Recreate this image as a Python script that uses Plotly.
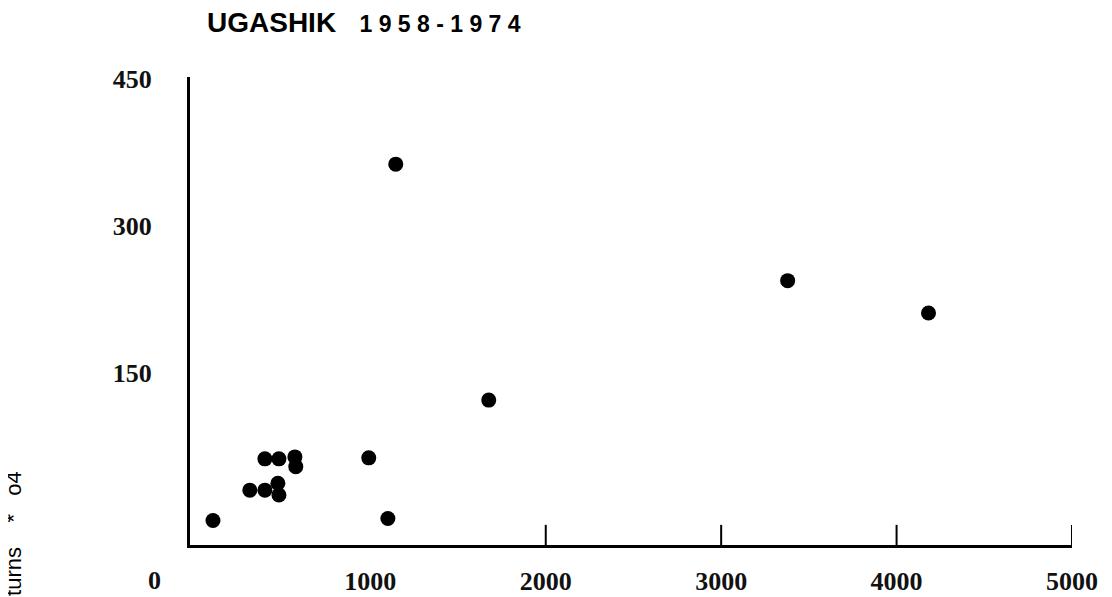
import plotly.graph_objects as go

# escapement (x) vs returns (y)
ESCAPEMENT = [103, 399, 479, 570, 575, 313, 399, 473, 479, 991, 1100, 1145, 1675, 3379, 4182]
RETURNS = [-1, 62, 62, 64, 54, 30, 30, 37, 25, 63, 1, 363, 122, 244, 211]

X_TICKS = [1000, 2000, 3000, 4000, 5000]
X_TICK_MARKS = [2000, 3000, 4000, 5000]
Y_TICKS = [150, 300, 450]

NUM_FONT = dict(family="Liberation Serif", size=26, color="#111", weight="bold")

fig = go.Figure(go.Scatter(
    x=ESCAPEMENT,
    y=RETURNS,
    mode="markers",
    marker=dict(size=15, color="#000"),
    hoverinfo="skip",
))

# short upward tick marks on the x axis
for t in X_TICK_MARKS:
    fig.add_shape(type="line", xref="x", yref="paper",
                  x0=t, x1=t, y0=0, y1=0.043,
                  line=dict(color="#000", width=2))

fig.add_annotation(text="0", xref="paper", yref="paper", x=-0.04, y=-0.075,
                   showarrow=False, font=NUM_FONT, xanchor="center", yanchor="middle")

fig.add_annotation(text="turns    *   o4", xref="paper", yref="paper",
                   x=-0.2, y=0.025, textangle=-90, showarrow=False,
                   font=dict(family="Liberation Sans", size=22, color="#000"),
                   xanchor="center", yanchor="middle")

# the page body has an 8px margin, so margins are shifted to compensate
fig.update_layout(
    width=1112, height=597,
    paper_bgcolor="#fff", plot_bgcolor="#fff",
    margin=dict(l=182, r=48, t=69, b=60),
    showlegend=False,
    title=dict(
        text="<b>UGASHIK</b>   <b><span style='font-size:23px'>1 9 5 8 - 1 9 7 4</span></b>",
        x=199 / 1112, xanchor="left", y=1 - 14 / 597, yanchor="middle",
        font=dict(family="Liberation Sans", size=28, color="#000"),
    ),
    xaxis=dict(
        range=[-28, 5000],
        tickvals=X_TICKS,
        ticktext=[str(v) for v in X_TICKS],
        ticks="",
        showgrid=False, zeroline=False,
        showline=True, linecolor="#000", linewidth=3,
        tickfont=NUM_FONT,
        ticklabelstandoff=11,
        automargin=False,
    ),
    yaxis=dict(
        range=[-26, 452],
        tickvals=Y_TICKS,
        ticktext=[str(v) for v in Y_TICKS],
        ticks="",
        showgrid=False, zeroline=False,
        showline=True, linecolor="#000", linewidth=3,
        tickfont=NUM_FONT,
        ticklabelstandoff=30,
        automargin=False,
    ),
)

fig.write_html("out.html")
